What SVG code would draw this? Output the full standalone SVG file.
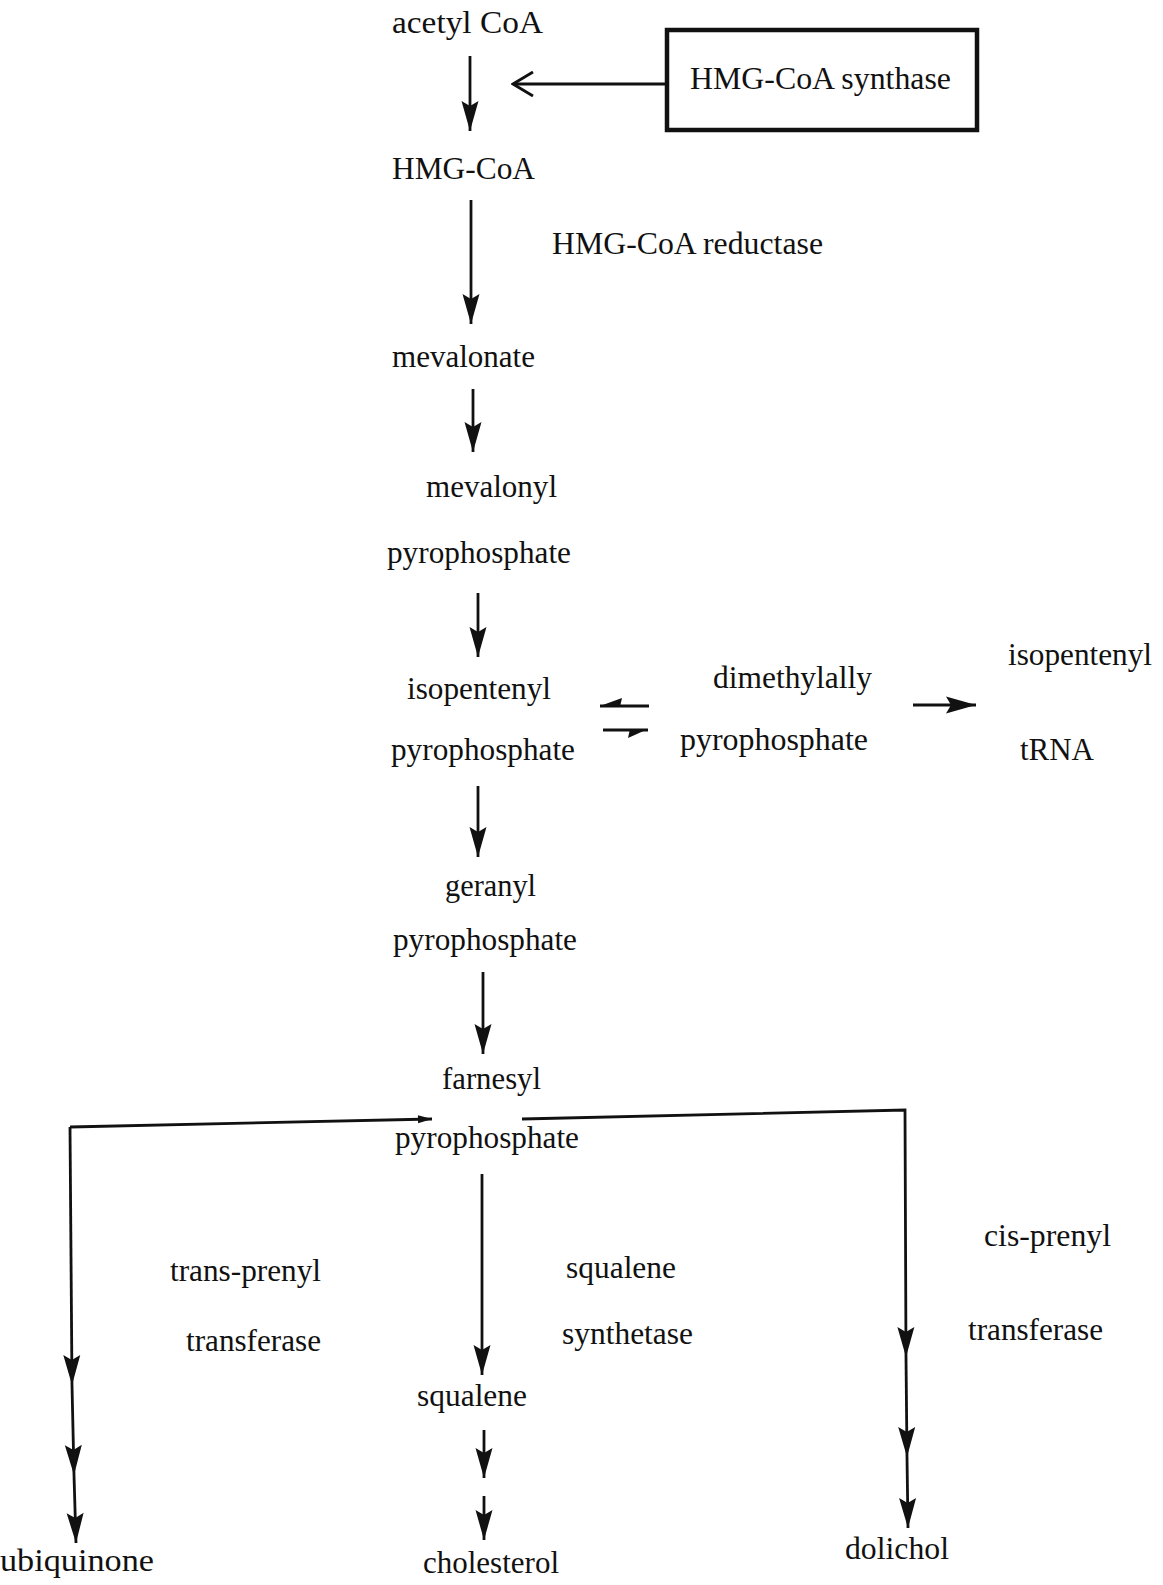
<svg xmlns="http://www.w3.org/2000/svg" width="1163" height="1585" viewBox="0 0 1163 1585">
<style>
text{font-family:"Liberation Serif","Times New Roman",serif;font-size:31px;fill:#111}
.ln{stroke:#111;stroke-width:2.8;fill:none}
.hd{fill:#111;stroke:none}
</style>
<defs>
<marker id="ah" viewBox="-32 -10 34 20" refX="0" refY="0" markerWidth="34" markerHeight="20" markerUnits="userSpaceOnUse" orient="auto">
<path d="M0,0 L-30,-8.5 L-25,0 L-30,8.5 Z" fill="#111"/>
</marker>
<marker id="open" viewBox="-24 -14 26 28" refX="0" refY="0" markerWidth="26" markerHeight="28" markerUnits="userSpaceOnUse" orient="auto">
<path d="M-20,-12 L0,0 L-20,12" fill="none" stroke="#111" stroke-width="2.8"/>
</marker>
<marker id="sm" viewBox="-16 -6 18 12" refX="0" refY="0" markerWidth="18" markerHeight="12" markerUnits="userSpaceOnUse" orient="auto">
<path d="M0,0 L-14,-4 L-14,4 Z" fill="#111"/>
</marker>
</defs>

<g id="acetyl-coa"><text x="392" y="33" textLength="151" lengthAdjust="spacingAndGlyphs">acetyl  CoA</text></g>
<g id="hmg-coa-synthase">
<rect x="667" y="30" width="310" height="100" fill="none" stroke="#111" stroke-width="4.5"/>
<text x="690" y="89" textLength="261" lengthAdjust="spacingAndGlyphs">HMG-CoA synthase</text>
</g>
<g id="hmg-coa"><text x="392" y="179" textLength="143" lengthAdjust="spacingAndGlyphs">HMG-CoA</text></g>
<g id="hmg-coa-reductase"><text x="552" y="254" textLength="271" lengthAdjust="spacingAndGlyphs">HMG-CoA  reductase</text></g>
<g id="mevalonate"><text x="392" y="367" textLength="143" lengthAdjust="spacingAndGlyphs">mevalonate</text></g>
<g id="mevalonyl-pp">
<text x="426" y="497" textLength="131" lengthAdjust="spacingAndGlyphs">mevalonyl</text>
<text x="387" y="563" textLength="184" lengthAdjust="spacingAndGlyphs">pyrophosphate</text>
</g>
<g id="isopentenyl-pp">
<text x="407" y="699" textLength="144" lengthAdjust="spacingAndGlyphs">isopentenyl</text>
<text x="391" y="760" textLength="184" lengthAdjust="spacingAndGlyphs">pyrophosphate</text>
</g>
<g id="dimethylallyl-pp">
<text x="713" y="688" textLength="159" lengthAdjust="spacingAndGlyphs">dimethylally</text>
<text x="680" y="750" textLength="188" lengthAdjust="spacingAndGlyphs">pyrophosphate</text>
</g>
<g id="isopentenyl-trna">
<text x="1008" y="665" textLength="144" lengthAdjust="spacingAndGlyphs">isopentenyl</text>
<text x="1020" y="760" textLength="74" lengthAdjust="spacingAndGlyphs">tRNA</text>
</g>
<g id="geranyl-pp">
<text x="445" y="896" textLength="91" lengthAdjust="spacingAndGlyphs">geranyl</text>
<text x="393" y="950" textLength="184" lengthAdjust="spacingAndGlyphs">pyrophosphate</text>
</g>
<g id="farnesyl-pp">
<text x="442" y="1089" textLength="99" lengthAdjust="spacingAndGlyphs">farnesyl</text>
<text x="395" y="1148" textLength="184" lengthAdjust="spacingAndGlyphs">pyrophosphate</text>
</g>
<g id="trans-prenyl-transferase">
<text x="170" y="1281" textLength="151" lengthAdjust="spacingAndGlyphs">trans-prenyl</text>
<text x="186" y="1351" textLength="135" lengthAdjust="spacingAndGlyphs">transferase</text>
</g>
<g id="squalene-synthetase">
<text x="566" y="1278" textLength="110" lengthAdjust="spacingAndGlyphs">squalene</text>
<text x="562" y="1344" textLength="131" lengthAdjust="spacingAndGlyphs">synthetase</text>
</g>
<g id="cis-prenyl-transferase">
<text x="984" y="1246" textLength="127" lengthAdjust="spacingAndGlyphs">cis-prenyl</text>
<text x="968" y="1340" textLength="135" lengthAdjust="spacingAndGlyphs">transferase</text>
</g>
<g id="squalene"><text x="417" y="1406" textLength="110" lengthAdjust="spacingAndGlyphs">squalene</text></g>
<g id="ubiquinone"><text x="0" y="1571" textLength="154" lengthAdjust="spacingAndGlyphs">ubiquinone</text></g>
<g id="cholesterol"><text x="423" y="1573" textLength="136" lengthAdjust="spacingAndGlyphs">cholesterol</text></g>
<g id="dolichol"><text x="845" y="1559" textLength="104" lengthAdjust="spacingAndGlyphs">dolichol</text></g>

<g id="connectors">
<path class="ln" d="M667,84 L513,84" marker-end="url(#open)"/>
<path class="ln" d="M470,56 L470,131" marker-end="url(#ah)"/>
<path class="ln" d="M471,200 L471,324" marker-end="url(#ah)"/>
<path class="ln" d="M473,389 L473,452" marker-end="url(#ah)"/>
<path class="ln" d="M478,593 L478,657" marker-end="url(#ah)"/>
<path class="ln" d="M600,706 L649,706"/>
<path class="hd" d="M600,706 L622,698 L620,707 Z"/>
<path class="ln" d="M603,730 L648,730"/>
<path class="hd" d="M648,729 L628,738 L630,729 Z"/>
<path class="ln" d="M913,705 L976,705" marker-end="url(#ah)"/>
<path class="ln" d="M478,786 L478,857" marker-end="url(#ah)"/>
<path class="ln" d="M483,972 L483,1054" marker-end="url(#ah)"/>
<path class="ln" d="M70,1127 L432,1119" marker-end="url(#sm)"/>
<path class="ln" d="M70,1127 L72,1385" marker-end="url(#ah)"/>
<path class="ln" d="M72,1385 L74,1475" marker-end="url(#ah)"/>
<path class="ln" d="M74,1475 L76,1543" marker-end="url(#ah)"/>
<path class="ln" d="M522,1119 L905,1110 L906,1357" marker-end="url(#ah)"/>
<path class="ln" d="M906,1357 L907,1457" marker-end="url(#ah)"/>
<path class="ln" d="M907,1457 L908,1528" marker-end="url(#ah)"/>
<path class="ln" d="M482,1174 L482,1375" marker-end="url(#ah)"/>
<path class="ln" d="M484,1430 L484,1478" marker-end="url(#ah)"/>
<path class="ln" d="M484,1496 L484,1540" marker-end="url(#ah)"/>
</g>
</svg>
